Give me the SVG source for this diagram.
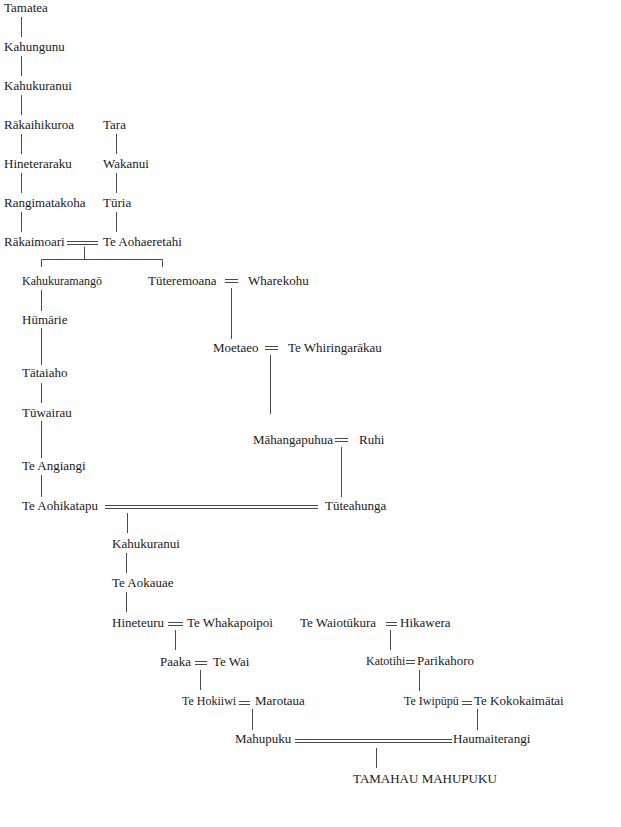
<svg xmlns="http://www.w3.org/2000/svg" width="621" height="827" viewBox="0 0 621 827">
<style>
text{font-family:"Liberation Serif","Times New Roman",serif;font-size:13px;fill:#1a1a1a}
text.s{font-size:12px}
.c line{stroke:#4a4a4a;stroke-width:1;fill:none}
</style>
<rect width="621" height="827" fill="#fff"/>
<g class="c" id="connectors">
<line x1="21.5" y1="17" x2="21.5" y2="37"/>
<line x1="21.5" y1="56" x2="21.5" y2="76"/>
<line x1="21.5" y1="95" x2="21.5" y2="115"/>
<line x1="21.5" y1="134" x2="21.5" y2="154"/>
<line x1="21.5" y1="173" x2="21.5" y2="193"/>
<line x1="21.5" y1="212" x2="21.5" y2="232"/>
<line x1="116.5" y1="134" x2="116.5" y2="154"/>
<line x1="116.5" y1="173" x2="116.5" y2="193"/>
<line x1="116.5" y1="212" x2="116.5" y2="232"/>
<line x1="67" y1="241.5" x2="98" y2="241.5"/>
<line x1="67" y1="244.5" x2="98" y2="244.5"/>
<line x1="84.5" y1="247" x2="84.5" y2="259"/>
<path d="M41.5 267V259.5H162.5V267" stroke="#4a4a4a" fill="none"/>
<line x1="225" y1="279.5" x2="238" y2="279.5"/>
<line x1="225" y1="282.5" x2="238" y2="282.5"/>
<line x1="231.5" y1="288" x2="231.5" y2="339"/>
<line x1="41.5" y1="290" x2="41.5" y2="311"/>
<line x1="41.5" y1="328" x2="41.5" y2="365"/>
<line x1="41.5" y1="383" x2="41.5" y2="403"/>
<line x1="41.5" y1="421" x2="41.5" y2="458"/>
<line x1="41.5" y1="475" x2="41.5" y2="497"/>
<line x1="265" y1="346.5" x2="278" y2="346.5"/>
<line x1="265" y1="349.5" x2="278" y2="349.5"/>
<line x1="270.5" y1="355" x2="270.5" y2="414"/>
<line x1="335" y1="438.5" x2="348" y2="438.5"/>
<line x1="335" y1="441.5" x2="348" y2="441.5"/>
<line x1="341.5" y1="447" x2="341.5" y2="497"/>
<line x1="105" y1="505.5" x2="318" y2="505.5"/>
<line x1="105" y1="508.5" x2="318" y2="508.5"/>
<line x1="127.5" y1="513" x2="127.5" y2="533"/>
<line x1="126.5" y1="553" x2="126.5" y2="573"/>
<line x1="126.5" y1="592" x2="126.5" y2="612"/>
<line x1="168" y1="622.5" x2="183" y2="622.5"/>
<line x1="168" y1="625.5" x2="183" y2="625.5"/>
<line x1="175.5" y1="630" x2="175.5" y2="650"/>
<line x1="195" y1="661.5" x2="207" y2="661.5"/>
<line x1="195" y1="664.5" x2="207" y2="664.5"/>
<line x1="200.5" y1="670" x2="200.5" y2="690"/>
<line x1="239" y1="701.5" x2="250" y2="701.5"/>
<line x1="239" y1="704.5" x2="250" y2="704.5"/>
<line x1="252.5" y1="709" x2="252.5" y2="730"/>
<line x1="386" y1="622.5" x2="397" y2="622.5"/>
<line x1="386" y1="625.5" x2="397" y2="625.5"/>
<line x1="390.5" y1="630" x2="390.5" y2="650"/>
<line x1="406" y1="660.5" x2="415" y2="660.5"/>
<line x1="406" y1="663.5" x2="415" y2="663.5"/>
<line x1="419.5" y1="670" x2="419.5" y2="691"/>
<line x1="462" y1="701.5" x2="472" y2="701.5"/>
<line x1="462" y1="704.5" x2="472" y2="704.5"/>
<line x1="477.5" y1="709" x2="477.5" y2="730"/>
<line x1="295" y1="739.5" x2="452" y2="739.5"/>
<line x1="295" y1="742.5" x2="452" y2="742.5"/>
<line x1="376.5" y1="748" x2="376.5" y2="768"/>
</g>
<g id="tamatea"><text x="4" y="12">Tamatea</text></g>
<g id="kahungunu"><text x="4" y="51">Kahungunu</text></g>
<g id="kahukuranui1"><text x="4" y="90">Kahukuranui</text></g>
<g id="rakaihikuroa"><text x="4" y="129">Rākaihikuroa</text></g>
<g id="hineteraraku"><text x="4" y="168">Hineteraraku</text></g>
<g id="rangimatakoha"><text x="4" y="207">Rangimatakoha</text></g>
<g id="rakaimoari"><text x="4" y="246">Rākaimoari</text></g>
<g id="tara"><text x="103" y="129">Tara</text></g>
<g id="wakanui"><text x="103" y="168">Wakanui</text></g>
<g id="turia"><text x="103" y="207">Tūria</text></g>
<g id="te-aohaeretahi"><text x="103" y="246">Te Aohaeretahi</text></g>
<g id="kahukuramango"><text x="22" y="285" class="s">Kahukuramangō</text></g>
<g id="tuteremoana"><text x="148" y="285">Tūteremoana</text></g>
<g id="wharekohu"><text x="248" y="285">Wharekohu</text></g>
<g id="humarie"><text x="22" y="324">Hūmārie</text></g>
<g id="moetaeo"><text x="213" y="352">Moetaeo</text></g>
<g id="te-whiringarakau"><text x="288" y="352">Te Whiringarākau</text></g>
<g id="tataiaho"><text x="22" y="377">Tātaiaho</text></g>
<g id="tuwairau"><text x="22" y="417">Tūwairau</text></g>
<g id="mahangapuhua"><text x="253" y="444">Māhangapuhua</text></g>
<g id="ruhi"><text x="359" y="444">Ruhi</text></g>
<g id="te-angiangi"><text x="22" y="470">Te Angiangi</text></g>
<g id="te-aohikatapu"><text x="22" y="510">Te Aohikatapu</text></g>
<g id="tuteahunga"><text x="325" y="510">Tūteahunga</text></g>
<g id="kahukuranui2"><text x="112" y="548">Kahukuranui</text></g>
<g id="te-aokauae"><text x="112" y="587">Te Aokauae</text></g>
<g id="hineteuru"><text x="112" y="627">Hineteuru</text></g>
<g id="te-whakapoipoi"><text x="187" y="627">Te Whakapoipoi</text></g>
<g id="te-waiotukura"><text x="300" y="627">Te Waiotūkura</text></g>
<g id="hikawera"><text x="400" y="627">Hikawera</text></g>
<g id="paaka"><text x="160" y="666">Paaka</text></g>
<g id="te-wai"><text x="213" y="666">Te Wai</text></g>
<g id="katotihi"><text x="366" y="665" class="s">Katotihi</text></g>
<g id="parikahoro"><text x="417" y="665">Parikahoro</text></g>
<g id="te-hokiiwi"><text x="182" y="705" class="s">Te Hokiiwi</text></g>
<g id="marotaua"><text x="255" y="705">Marotaua</text></g>
<g id="te-iwipupu"><text x="404" y="705" class="s">Te Iwipūpū</text></g>
<g id="te-kokokaimatai"><text x="474" y="705">Te Kokokaimātai</text></g>
<g id="mahupuku"><text x="235" y="743">Mahupuku</text></g>
<g id="haumaiterangi"><text x="453" y="743">Haumaiterangi</text></g>
<g id="tamahau-mahupuku"><text x="353" y="783">TAMAHAU MAHUPUKU</text></g>
</svg>
